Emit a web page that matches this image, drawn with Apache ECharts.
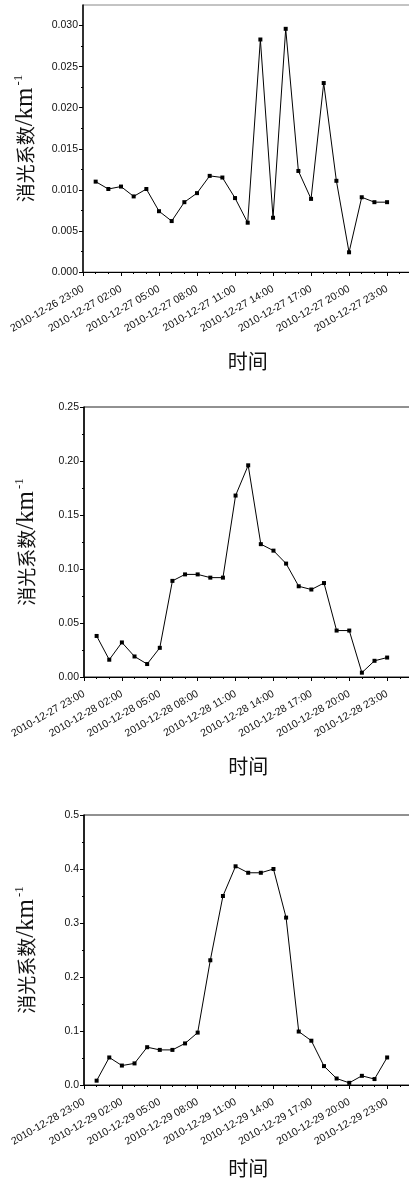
<!DOCTYPE html>
<html>
<head>
<meta charset="utf-8">
<script src="https://cdn.jsdelivr.net/npm/echarts@6/dist/echarts.min.js"></script>
<style>
html,body{margin:0;padding:0;background:#fff;overflow:hidden;}
#c{width:415px;height:1184px;}
</style>
</head>
<body>
<div id="c"></div>
<script>
// observation hours (x = hours since 23:00 of previous day)
const hours = ['00:00','01:00','02:00','03:00','04:00','05:00','06:00','07:00','08:00','09:00','10:00','11:00',
               '12:00','13:00','14:00','15:00','16:00','17:00','18:00','19:00','20:00','21:00','22:00','23:00'];

const tickLabels1 = ['2010-12-26 23:00','2010-12-27 02:00','2010-12-27 05:00','2010-12-27 08:00','2010-12-27 11:00',
                     '2010-12-27 14:00','2010-12-27 17:00','2010-12-27 20:00','2010-12-27 23:00'];
const tickLabels2 = ['2010-12-27 23:00','2010-12-28 02:00','2010-12-28 05:00','2010-12-28 08:00','2010-12-28 11:00',
                     '2010-12-28 14:00','2010-12-28 17:00','2010-12-28 20:00','2010-12-28 23:00'];
const tickLabels3 = ['2010-12-28 23:00','2010-12-29 02:00','2010-12-29 05:00','2010-12-29 08:00','2010-12-29 11:00',
                     '2010-12-29 14:00','2010-12-29 17:00','2010-12-29 20:00','2010-12-29 23:00'];

const values1 = [0.0110,0.0101,0.0104,0.0092,0.0101,0.0074,0.0062,0.0085,0.0096,0.0117,0.0115,0.0090,
                 0.0060,0.0283,0.0066,0.0296,0.0123,0.0089,0.0230,0.0111,0.0024,0.0091,0.0085,0.0085];
const values2 = [0.038,0.016,0.032,0.019,0.012,0.027,0.089,0.095,0.095,0.092,0.092,0.168,
                 0.196,0.123,0.117,0.105,0.084,0.081,0.087,0.043,0.043,0.004,0.015,0.018];
const values3 = [0.008,0.051,0.036,0.040,0.070,0.065,0.065,0.077,0.097,0.231,0.350,0.405,
                 0.393,0.393,0.400,0.310,0.099,0.082,0.035,0.012,0.004,0.017,0.011,0.051];

const yTicks1 = [0,0.005,0.010,0.015,0.020,0.025,0.030];

const chart = echarts.init(document.getElementById('c'), null, {renderer:'canvas'});

const panels = [
  {top:5, height:267, left:83, right:2, ymax:0.0325, yint:0.005, dec:3, labels:tickLabels1, vals:values1, border:'#888', gap:79},
  {top:407, height:270, left:84, right:2.6, ymax:0.25, yint:0.05, dec:2, labels:tickLabels2, vals:values2, border:'#222', gap:79},
  {top:815, height:270, left:84, right:2.6, ymax:0.5, yint:0.1, dec:1, labels:tickLabels3, vals:values3, border:'#222', gap:73}
];

const latin = 'Liberation Sans, Arial, sans-serif';
const grids = [], xAxes = [], yAxes = [], series = [];
panels.forEach((p, i) => {
  grids.push({left:p.left, right:p.right, top:p.top, height:p.height, show:true,
              borderColor:p.border, borderWidth:1, backgroundColor:'transparent'});
  xAxes.push({
    type:'value', gridIndex:i, min:0, max:26, interval:3,
    name:'时间', nameLocation:'middle', nameGap:p.gap,
    nameTextStyle:{fontFamily:'Noto Sans CJK SC', fontSize:20, color:'#111'},
    axisLine:{show:true, onZero:false, lineStyle:{color:'#000', width:1}},
    axisTick:{show:true, inside:false, length:4, lineStyle:{color:'#000'}},
    minorTick:{show:true, splitNumber:3, length:2, lineStyle:{color:'#000'}},
    splitLine:{show:false},
    axisLabel:{rotate:30, margin:16, fontSize:10.5, fontFamily:latin, color:'#111',
      formatter:(v)=> (v % 3 === 0 && v/3 < p.labels.length) ? p.labels[v/3] : ''}
  });
  const yAx = {
    type:'value', gridIndex:i, min:0, max:p.ymax, interval:p.yint,
    name:'{a|消光系数}{b|/km}{c|-1}', nameLocation:'middle', nameGap:44, nameRotate:90,
    nameTextStyle:{rich:{
      a:{fontFamily:'Noto Sans CJK SC', fontSize:19, color:'#111'},
      b:{fontFamily:'Liberation Serif, serif', fontSize:25, color:'#111'},
      c:{fontFamily:'Liberation Serif, serif', fontSize:13, color:'#111', verticalAlign:'top', padding:[0,0,14,2]}
    }},
    axisLine:{show:true, onZero:false, lineStyle:{color:'#000', width:1.5}},
    axisTick:{show:true, inside:false, length:4, lineStyle:{color:'#000'}},
    minorTick:{show:true, splitNumber:2, length:2, lineStyle:{color:'#000'}},
    splitLine:{show:false},
    axisLabel:{margin:5, fontSize:10.5, fontFamily:latin, color:'#111',
      formatter:(v)=> v.toFixed(p.dec)}
  };
  if (i === 0) { yAx.axisTick.customValues = yTicks1; yAx.axisLabel.customValues = yTicks1; }
  yAxes.push(yAx);
  series.push({
    type:'line', xAxisIndex:i, yAxisIndex:i,
    data: p.vals.map((v, k) => [hours.indexOf(hours[k]) + 1, v]),
    symbol:'rect', symbolSize:4, showSymbol:true,
    lineStyle:{color:'#000', width:1}, itemStyle:{color:'#000'},
    animation:false
  });
});

chart.setOption({
  animation:false,
  backgroundColor:'#fff',
  grid:grids, xAxis:xAxes, yAxis:yAxes, series:series
});
</script>
</body>
</html>
